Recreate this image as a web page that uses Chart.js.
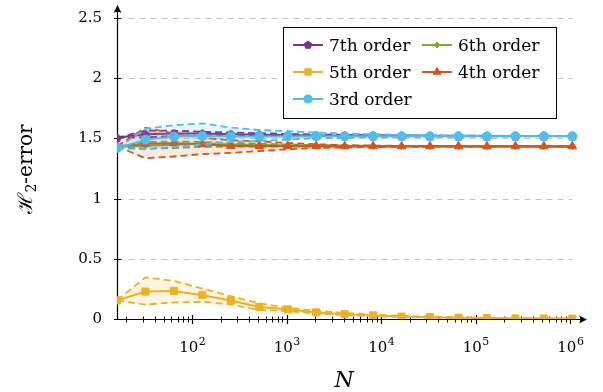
<!DOCTYPE html>
<html>
<head>
<meta charset="utf-8">
<title>H2 error vs N</title>
<script src="https://cdn.jsdelivr.net/npm/chart.js@4.4.1/dist/chart.umd.min.js"></script>
<style>
    html, body { margin: 0; padding: 0; background: #fff; }
    #wrap { width: 603px; height: 392px; }
</style>
</head>
<body>
<div id="wrap"><canvas id="errorChart" width="603" height="392"></canvas></div>
<script>
// sample sizes N (powers of two)
const sampleSizes = [16, 32, 64, 128, 256, 512, 1024, 2048, 4096, 8192, 16384, 32768, 65536, 131072, 262144, 524288, 1048576];

const order7Mean  = [1.505, 1.535, 1.540, 1.540, 1.535, 1.530, 1.527, 1.525, 1.523, 1.522, 1.521, 1.520, 1.520, 1.520, 1.520, 1.520, 1.520];
const order7Upper = [1.505, 1.565, 1.565, 1.555, 1.550, 1.543, 1.537, 1.533, 1.530, 1.527, 1.525, 1.524, 1.523, 1.522, 1.521, 1.521, 1.520];
const order7Lower = [1.505, 1.510, 1.518, 1.522, 1.522, 1.520, 1.518, 1.518, 1.518, 1.518, 1.518, 1.518, 1.518, 1.519, 1.519, 1.519, 1.519];

const order6Mean  = [1.430, 1.440, 1.450, 1.455, 1.450, 1.445, 1.441, 1.439, 1.437, 1.436, 1.435, 1.434, 1.433, 1.433, 1.433, 1.433, 1.433];
const order6Upper = [1.430, 1.470, 1.475, 1.470, 1.462, 1.455, 1.450, 1.445, 1.441, 1.439, 1.437, 1.436, 1.435, 1.435, 1.434, 1.434, 1.434];
const order6Lower = [1.430, 1.415, 1.420, 1.430, 1.432, 1.432, 1.432, 1.432, 1.432, 1.432, 1.432, 1.432, 1.432, 1.432, 1.432, 1.432, 1.432];

const order5Mean  = [0.154, 0.228, 0.233, 0.198, 0.154, 0.100, 0.080, 0.055, 0.040, 0.030, 0.020, 0.015, 0.010, 0.008, 0.005, 0.004, 0.003];
const order5Upper = [0.154, 0.346, 0.316, 0.253, 0.190, 0.130, 0.095, 0.068, 0.050, 0.037, 0.027, 0.020, 0.014, 0.010, 0.007, 0.005, 0.004];
const order5Lower = [0.154, 0.120, 0.137, 0.143, 0.120, 0.075, 0.065, 0.045, 0.032, 0.024, 0.016, 0.011, 0.008, 0.006, 0.004, 0.003, 0.002];

const order4Mean  = [1.435, 1.455, 1.460, 1.452, 1.438, 1.437, 1.437, 1.436, 1.435, 1.435, 1.434, 1.434, 1.434, 1.434, 1.434, 1.434, 1.434];
const order4Upper = [1.435, 1.590, 1.540, 1.505, 1.485, 1.475, 1.462, 1.452, 1.445, 1.441, 1.438, 1.437, 1.436, 1.435, 1.435, 1.434, 1.434];
const order4Lower = [1.435, 1.335, 1.350, 1.370, 1.380, 1.395, 1.410, 1.420, 1.425, 1.428, 1.430, 1.431, 1.432, 1.433, 1.433, 1.433, 1.433];

const order3Mean  = [1.418, 1.490, 1.515, 1.520, 1.517, 1.516, 1.517, 1.518, 1.518, 1.518, 1.518, 1.518, 1.518, 1.518, 1.518, 1.518, 1.518];
const order3Upper = [1.418, 1.580, 1.610, 1.625, 1.590, 1.570, 1.560, 1.550, 1.540, 1.535, 1.530, 1.527, 1.525, 1.523, 1.522, 1.521, 1.520];
const order3Lower = [1.418, 1.410, 1.430, 1.450, 1.470, 1.480, 1.490, 1.500, 1.505, 1.510, 1.512, 1.514, 1.515, 1.516, 1.516, 1.517, 1.517];

const seriesLabels = ['7th order', '6th order', '5th order', '4th order', '3rd order'];
const yTicks = [0, 0.5, 1, 1.5, 2, 2.5];
const xMajorTicks = [1e2, 1e3, 1e4, 1e5, 1e6];
const xTickExponents = ['2', '3', '4', '5', '6'];
const xMinorMultipliers = [2, 3, 4, 5, 6, 7, 8, 9];

const SERIF = '"DejaVu Serif", serif';

function markerPath(ctx, style, x, y, r) {
    ctx.beginPath();
    if (style === 'circle') {
        ctx.arc(x, y, r, 0, Math.PI * 2);
    } else if (style === 'rect') {
        const s = r * Math.SQRT1_2;
        ctx.rect(x - s, y - s, 2 * s, 2 * s);
    } else if (style === 'rectRot') {
        ctx.moveTo(x, y - r); ctx.lineTo(x + r, y); ctx.lineTo(x, y + r); ctx.lineTo(x - r, y);
        ctx.closePath();
    } else if (style === 'triangle') {
        for (let k = 0; k < 3; k++) {
            const a = k * 2 * Math.PI / 3;
            const px = x + Math.sin(a) * r, py = y - Math.cos(a) * r;
            k ? ctx.lineTo(px, py) : ctx.moveTo(px, py);
        }
        ctx.closePath();
    } else if (style === 'pentagon') {
        for (let k = 0; k < 5; k++) {
            const a = k * 2 * Math.PI / 5;
            const px = x + Math.sin(a) * r, py = y - Math.cos(a) * r;
            k ? ctx.lineTo(px, py) : ctx.moveTo(px, py);
        }
        ctx.closePath();
    }
}

function drawMarker(ctx, style, x, y, r, color) {
    ctx.save();
    ctx.fillStyle = color;
    ctx.strokeStyle = color;
    ctx.lineWidth = 1;
    markerPath(ctx, style, x, y, r);
    ctx.fill();
    ctx.stroke();
    ctx.restore();
}

// Chart.js has no pentagon, so hand it a small canvas as point style
function pentagonImage(color, r) {
    const c = document.createElement('canvas');
    c.width = c.height = Math.ceil(2 * r + 4);
    drawMarker(c.getContext('2d'), 'pentagon', c.width / 2, c.height / 2 + 0.5, r, color);
    return c;
}

function hexToRgba(hex, a) {
    const n = parseInt(hex.slice(1), 16);
    return `rgba(${(n >> 16) & 255}, ${(n >> 8) & 255}, ${n & 255}, ${a})`;
}

const series = [
    { label: seriesLabels[0], mean: order7Mean, upper: order7Upper, lower: order7Lower, color: '#7E2F8E', marker: 'pentagon', radius: 4.5 },
    { label: seriesLabels[1], mean: order6Mean, upper: order6Upper, lower: order6Lower, color: '#77AC30', marker: 'rectRot', radius: 3.2 },
    { label: seriesLabels[2], mean: order5Mean, upper: order5Upper, lower: order5Lower, color: '#EDB120', marker: 'rect', radius: 5 },
    { label: seriesLabels[3], mean: order4Mean, upper: order4Upper, lower: order4Lower, color: '#D95319', marker: 'triangle', radius: 5 },
    { label: seriesLabels[4], mean: order3Mean, upper: order3Upper, lower: order3Lower, color: '#4DBEEE', marker: 'circle', radius: 4.5 }
];

const toPoints = arr => sampleSizes.map((n, i) => ({ x: n, y: arr[i] }));

const datasets = [];
series.forEach((s, i) => {
    const base = (series.length - 1 - i) * 3;   // later series sit on top
    datasets.push({
        label: s.label + ' upper',
        data: toPoints(s.upper),
        borderColor: s.color,
        borderWidth: 1.8,
        borderDash: [7, 4],
        pointRadius: 0,
        fill: '+1',
        backgroundColor: hexToRgba(s.color, 0.13),
        order: base + 1
    });
    datasets.push({
        label: s.label + ' lower',
        data: toPoints(s.lower),
        borderColor: s.color,
        borderWidth: 1.8,
        borderDash: [7, 4],
        pointRadius: 0,
        fill: false,
        order: base + 2
    });
    datasets.push({
        label: s.label,
        data: toPoints(s.mean),
        borderColor: s.color,
        borderWidth: 2,
        pointStyle: s.marker === 'pentagon' ? pentagonImage(s.color, s.radius) : s.marker,
        pointRadius: s.radius,
        pointBackgroundColor: s.color,
        pointBorderColor: s.color,
        pointBorderWidth: 1,
        fill: false,
        order: base
    });
});

function arrowHead(ctx, x, y, dir) {
    // latex-style arrow tip, dir: 'right' or 'up'
    ctx.save();
    ctx.translate(x, y);
    if (dir === 'up') ctx.rotate(-Math.PI / 2);
    ctx.beginPath();
    ctx.moveTo(0, 0);
    ctx.lineTo(-8, -4);
    ctx.quadraticCurveTo(-5.5, 0, -8, 4);
    ctx.closePath();
    ctx.fill();
    ctx.restore();
}

const axesPlugin = {
    id: 'pgfAxes',
    beforeDatasetsDraw(chart) {
        const { ctx, chartArea, scales: { x, y } } = chart;
        const left = Math.round(chartArea.left) + 0.5;
        const bottom = Math.round(y.getPixelForValue(0)) + 0.5;
        const gridEnd = x.getPixelForValue(sampleSizes[sampleSizes.length - 1]);
        ctx.save();

        // dashed horizontal grid
        ctx.strokeStyle = '#c4c4c4';
        ctx.lineWidth = 1;
        ctx.setLineDash([6, 5]);
        yTicks.forEach(v => {
            if (v === 0) return;
            const py = Math.round(y.getPixelForValue(v)) + 0.5;
            ctx.beginPath();
            ctx.moveTo(left, py);
            ctx.lineTo(gridEnd, py);
            ctx.stroke();
        });
        ctx.setLineDash([]);

        // axis lines with arrows
        ctx.strokeStyle = '#000';
        ctx.fillStyle = '#000';
        ctx.lineWidth = 1.2;
        ctx.beginPath();
        ctx.moveTo(left, bottom);
        ctx.lineTo(chartArea.right - 3, bottom);
        ctx.moveTo(left, bottom);
        ctx.lineTo(left, chartArea.top + 3);
        ctx.stroke();
        arrowHead(ctx, chartArea.right, bottom, 'right');
        arrowHead(ctx, left, chartArea.top - 1, 'up');

        // y ticks crossing the axis
        ctx.lineWidth = 1;
        yTicks.forEach(v => {
            const py = Math.round(y.getPixelForValue(v)) + 0.5;
            ctx.beginPath();
            ctx.moveTo(left - 3.5, py);
            ctx.lineTo(left + 3.5, py);
            ctx.stroke();
        });

        // x ticks: decades long, others short
        const decades = [10, 100, 1e3, 1e4, 1e5, 1e6];
        decades.forEach(d => {
            xMinorMultipliers.forEach(m => {
                const v = d * m;
                if (v <= x.min || v >= x.max) return;
                const px = Math.round(x.getPixelForValue(v)) + 0.5;
                ctx.beginPath();
                ctx.moveTo(px, bottom - 3);
                ctx.lineTo(px, bottom + 3);
                ctx.stroke();
            });
        });
        ctx.lineWidth = 1.2;
        xMajorTicks.forEach(v => {
            const px = Math.round(x.getPixelForValue(v)) + 0.5;
            ctx.beginPath();
            ctx.moveTo(px, bottom - 4.5);
            ctx.lineTo(px, bottom + 4.5);
            ctx.stroke();
        });
        ctx.restore();
    },
    afterDraw(chart) {
        const { ctx, scales: { x } } = chart;
        ctx.save();
        ctx.fillStyle = '#000';
        ctx.textBaseline = 'alphabetic';

        // x tick labels 10^k
        xMajorTicks.forEach((v, i) => {
            const px = x.getPixelForValue(v);
            ctx.font = `15px ${SERIF}`;
            const wBase = ctx.measureText('10').width;
            ctx.font = `11px ${SERIF}`;
            const wExp = ctx.measureText(xTickExponents[i]).width;
            const start = px - (wBase + wExp) / 2;
            ctx.font = `15px ${SERIF}`;
            ctx.textAlign = 'left';
            ctx.fillText('10', start, 352);
            ctx.font = `11px ${SERIF}`;
            ctx.fillText(xTickExponents[i], start + wBase + 0.5, 345);
        });

        // x title
        ctx.font = `italic 22px ${SERIF}`;
        ctx.textAlign = 'center';
        ctx.fillText('N', 344, 387);

        // y title, rotated
        ctx.save();
        ctx.translate(0, 169);
        ctx.rotate(-Math.PI / 2);
        ctx.textAlign = 'left';
        ctx.font = `20px ${SERIF}`;
        const wH = ctx.measureText('\u210B').width;
        const wRest = ctx.measureText('-error').width;
        ctx.font = `14px ${SERIF}`;
        const wSub = ctx.measureText('2').width;
        const total = wH + wSub + wRest;
        let cx = -total / 2;
        ctx.font = `20px ${SERIF}`;
        ctx.fillText('\u210B', cx, 32);
        cx += wH;
        ctx.font = `14px ${SERIF}`;
        ctx.fillText('2', cx, 36);
        cx += wSub;
        ctx.font = `20px ${SERIF}`;
        ctx.fillText('-error', cx, 32);
        ctx.restore();

        // legend box
        ctx.fillStyle = '#fff';
        ctx.fillRect(283.5, 27.5, 273, 91);
        ctx.strokeStyle = '#000';
        ctx.lineWidth = 1;
        ctx.strokeRect(283.5, 27.5, 273, 91);
        const colX = [293, 422];
        const rowY = [45, 72, 99];
        series.forEach((s, i) => {
            const lx = colX[i % 2];
            const ly = rowY[Math.floor(i / 2)];
            ctx.strokeStyle = s.color;
            ctx.lineWidth = 2;
            ctx.beginPath();
            ctx.moveTo(lx, ly);
            ctx.lineTo(lx + 30, ly);
            ctx.stroke();
            drawMarker(ctx, s.marker, lx + 15, ly, s.radius * 0.9, s.color);
            ctx.fillStyle = '#000';
            ctx.font = `17px ${SERIF}`;
            ctx.textAlign = 'left';
            ctx.fillText(s.label, lx + 36, ly + 5.5);
        });
        ctx.restore();
    }
};

new Chart(document.getElementById('errorChart').getContext('2d'), {
    type: 'line',
    data: { datasets },
    options: {
        responsive: false,
        animation: false,
        events: [],
        layout: { padding: { left: 0, right: 16, top: 4, bottom: 0 } },
        plugins: {
            legend: { display: false },
            tooltip: { enabled: false }
        },
        scales: {
            x: {
                type: 'logarithmic',
                min: 16,
                max: 1.5e6,
                afterBuildTicks: scale => { scale.ticks = xMajorTicks.map(v => ({ value: v })); },
                afterFit: scale => {
                    scale.height = 73;
                    scale.paddingLeft = 0;
                    scale.paddingRight = 0;
                },
                grid: { display: false, drawTicks: false },
                border: { display: false },
                ticks: { display: false }
            },
            y: {
                type: 'linear',
                min: 0,
                max: 2.6,
                afterBuildTicks: scale => { scale.ticks = yTicks.map(v => ({ value: v })); },
                afterFit: scale => {
                    scale.width = 117;
                    scale.paddingTop = 0;
                    scale.paddingBottom = 0;
                },
                grid: { display: false, drawTicks: false },
                border: { display: false },
                ticks: {
                    padding: 15,
                    color: '#000',
                    font: { family: 'DejaVu Serif', size: 15 },
                    callback: v => String(v)
                }
            }
        }
    },
    plugins: [axesPlugin]
});
</script>
</body>
</html>
